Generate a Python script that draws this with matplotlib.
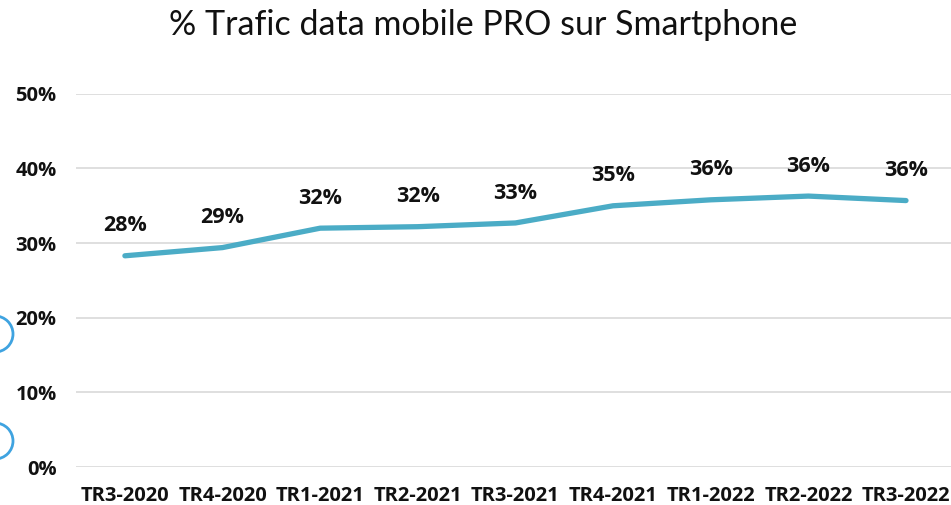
import matplotlib.pyplot as plt
from matplotlib.patches import Circle
from matplotlib.ticker import FuncFormatter

# Quarterly share of PRO mobile data traffic on smartphones
quarters = ["TR3-2020", "TR4-2020", "TR1-2021", "TR2-2021", "TR3-2021",
            "TR4-2021", "TR1-2022", "TR2-2022", "TR3-2022"]
share = [0.283, 0.294, 0.320, 0.322, 0.327, 0.350, 0.358, 0.363, 0.357]

y_ticks = [0.0, 0.1, 0.2, 0.3, 0.4, 0.5]

LINE_COLOR = "#4BACC6"
BOLD = ['Open Sans', 'DejaVu Sans']
plt.rcParams['font.family'] = ['Lato', 'DejaVu Sans']


def main():
    fig = plt.figure(figsize=(9.51, 5.05), dpi=100)
    ax = fig.add_axes([0.080, 0.0752, 0.924, 0.739])

    x = list(range(len(quarters)))
    ax.plot(x, share, color=LINE_COLOR, linewidth=3.8,
            solid_capstyle="round", solid_joinstyle="round", zorder=3)

    for xi, v in zip(x, share):
        ax.annotate(f"{v * 100:.0f}%", (xi, v), xytext=(0, 14),
                    textcoords="offset points", ha="center", va="bottom",
                    fontsize=15.5, fontweight="bold", family=BOLD,
                    color="#111111")

    ax.set_xlim(-0.5, len(quarters) - 0.5)
    ax.set_ylim(0, 0.5)
    ax.set_yticks(y_ticks)
    ax.yaxis.set_major_formatter(FuncFormatter(lambda v, _: f"{v * 100:.0f}%"))
    ax.set_xticks(x)
    ax.set_xticklabels(quarters)

    ax.grid(axis="y", color="#D9D9D9", linewidth=1.2)
    ax.set_axisbelow(True)
    for s in ax.spines.values():
        s.set_visible(False)
    ax.tick_params(axis="both", length=0, labelsize=14.5, colors="#111111")
    ax.tick_params(axis="y", pad=14)
    ax.tick_params(axis="x", pad=14)
    for lbl in ax.get_xticklabels() + ax.get_yticklabels():
        lbl.set_fontweight("bold")
        lbl.set_family(BOLD)

    fig.text(0.508, 0.950, "% Trafic data mobile PRO sur Smartphone",
             ha="center", va="center", fontsize=24.5, color="#111111")

    # two slide bullets peeking in from the left edge
    for cy in (334, 441):
        fig.patches.append(Circle((-5, 505 - cy), 18, transform=None,
                                  fill=False, edgecolor="#3FA3E0",
                                  linewidth=2.0))

    fig.savefig("out.png", dpi=100)


if __name__ == "__main__":
    main()
